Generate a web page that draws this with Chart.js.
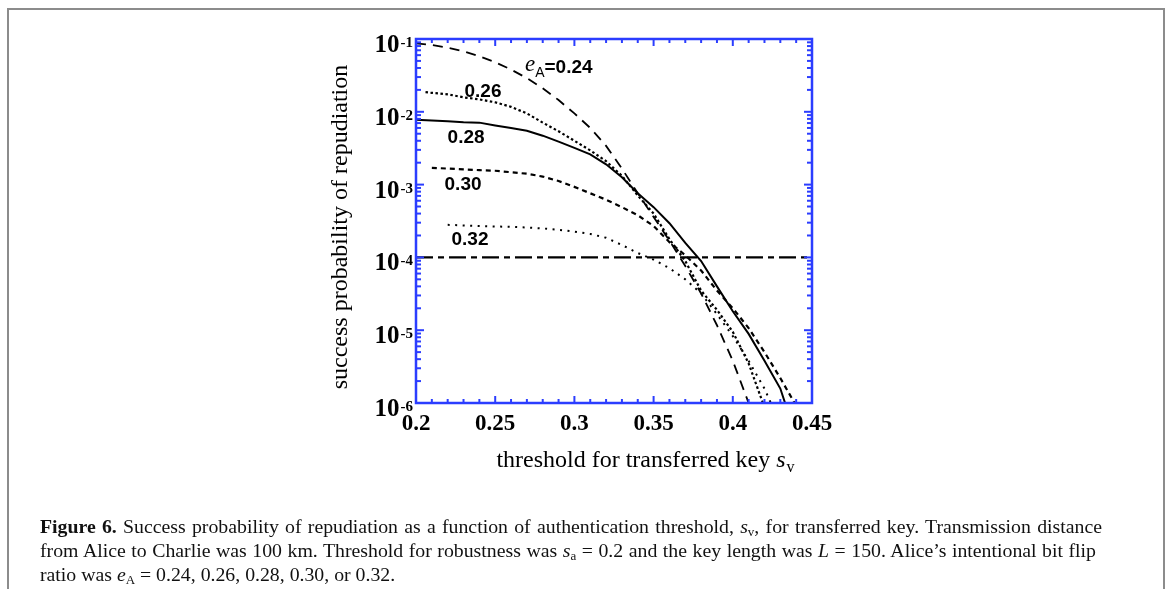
<!DOCTYPE html>
<html>
<head>
<meta charset="utf-8">
<script src="https://cdn.jsdelivr.net/npm/chart.js"></script>
<style>
  html, body { margin:0; padding:0; background:#fff; }
  body { width:1170px; height:589px; position:relative; overflow:hidden; }
  #chart { position:absolute; left:0; top:0; }
  .box { position:absolute; left:7px; top:8px; width:1158px; height:640px; border:2px solid #8c8c8c; box-sizing:border-box; }
  .caption { position:absolute; left:40px; top:514px; width:1062px; font-family:'Liberation Serif', serif; font-size:19.8px; line-height:24px; color:#111; }
  .caption .j { text-align:justify; text-align-last:justify; }
  .caption sub { font-size:13px; vertical-align:-3px; line-height:0; }
</style>
</head>
<body>
<div class="box"></div>
<canvas id="chart" width="1170" height="589"></canvas>
<div class="caption">
  <div class="j"><b>Figure 6.</b> Success probability of repudiation as a function of authentication threshold, <i>s</i><sub>v</sub>, for transferred key. Transmission distance</div>
  <div class="j" style="width:1056px">from Alice to Charlie was 100 km. Threshold for robustness was <i>s</i><sub>a</sub> = 0.2 and the key length was <i>L</i> = 150. Alice’s intentional bit flip</div>
  <div>ratio was <i>e</i><sub>A</sub> = 0.24, 0.26, 0.28, 0.30, or 0.32.</div>
</div>
<script>
// threshold s_v and success probability of repudiation for each e_A
var sv024 = [0.20,0.21,0.22,0.23,0.24,0.25,0.26,0.27,0.28,0.29,0.30,0.31,0.32,0.33,0.34,0.35,0.36,0.37,0.38,0.39,0.40,0.41];
var p024  = [8.7e-2,8.3e-2,7.6e-2,6.8e-2,5.8e-2,4.8e-2,3.8e-2,2.9e-2,2.1e-2,1.45e-2,9.5e-3,6.0e-3,3.4e-3,1.66e-3,7.6e-4,3.6e-4,1.7e-4,7.6e-5,3.2e-5,1.17e-5,3.8e-6,1.0e-6];

var sv026 = [0.206,0.21,0.22,0.23,0.24,0.25,0.26,0.27,0.28,0.29,0.30,0.31,0.32,0.33,0.34,0.35,0.36,0.37,0.38,0.39,0.40,0.41,0.419];
var p026  = [1.86e-2,1.82e-2,1.74e-2,1.58e-2,1.48e-2,1.35e-2,1.17e-2,9.5e-3,7.1e-3,5.4e-3,4.0e-3,2.95e-3,2.1e-3,1.32e-3,7.1e-4,4.0e-4,1.78e-4,8.9e-5,3.5e-5,1.9e-5,9.5e-6,3.5e-6,1.0e-6];

var sv028 = [0.20,0.21,0.22,0.23,0.24,0.25,0.26,0.27,0.28,0.29,0.30,0.31,0.32,0.33,0.34,0.35,0.36,0.37,0.38,0.39,0.40,0.41,0.42,0.43,0.433];
var p028  = [7.8e-3,7.6e-3,7.4e-3,7.2e-3,7.1e-3,6.5e-3,6.0e-3,5.5e-3,4.7e-3,3.9e-3,3.2e-3,2.6e-3,1.9e-3,1.26e-3,7.6e-4,4.9e-4,2.95e-4,1.58e-4,8.9e-5,4.0e-5,1.82e-5,8.9e-6,3.8e-6,1.58e-6,1.0e-6];

var sv030 = [0.21,0.22,0.23,0.24,0.25,0.26,0.27,0.28,0.29,0.30,0.31,0.32,0.33,0.34,0.35,0.36,0.37,0.38,0.39,0.40,0.41,0.42,0.43,0.439];
var p030  = [1.70e-3,1.66e-3,1.62e-3,1.58e-3,1.55e-3,1.48e-3,1.41e-3,1.29e-3,1.12e-3,9.3e-4,7.6e-4,6.2e-4,4.9e-4,3.8e-4,2.7e-4,1.62e-4,1.07e-4,6.6e-5,3.5e-5,2.0e-5,1.07e-5,5.0e-6,2.2e-6,1.0e-6];

var sv032 = [0.22,0.23,0.24,0.25,0.26,0.27,0.28,0.29,0.30,0.31,0.32,0.33,0.34,0.35,0.36,0.37,0.38,0.39,0.40,0.41,0.42,0.424];
var p032  = [2.8e-4,2.75e-4,2.7e-4,2.66e-4,2.63e-4,2.57e-4,2.5e-4,2.4e-4,2.26e-4,2.1e-4,1.86e-4,1.48e-4,1.15e-4,9.3e-5,7.1e-5,5.0e-5,3.2e-5,1.66e-5,8.3e-6,3.8e-6,1.58e-6,1.0e-6];

// horizontal reference level
var svRef = [0.20, 0.45];
var pRef  = [1e-4, 1e-4];

// axis ticks
var xMajorTicks = [0.20, 0.25, 0.30, 0.35, 0.40, 0.45];
var xTickLabels = ['0.2', '0.25', '0.3', '0.35', '0.4', '0.45'];
var yDecades = [-6, -5, -4, -3, -2, -1];

// curve labels: [text, s_v, probability]
var curveLabels = [
  ['0.26', 0.2423, 1.87e-2],
  ['0.28', 0.2316, 4.4e-3],
  ['0.30', 0.2297, 9.9e-4],
  ['0.32', 0.2341, 1.73e-4]
];

var AXIS = '#2b3dff';

function pts(xs, ys) {
  return xs.map(function(x, i){ return {x: x, y: ys[i]}; });
}

function line(ctx, x1, y1, x2, y2) {
  ctx.beginPath(); ctx.moveTo(x1, y1); ctx.lineTo(x2, y2); ctx.stroke();
}

var decorations = {
  id: 'decorations',
  afterDraw: function(chart) {
    var ctx = chart.ctx, a = chart.chartArea;
    var xs = chart.scales.x, ys = chart.scales.y;
    ctx.save();

    // frame
    ctx.strokeStyle = AXIS;
    ctx.lineWidth = 2.5;
    ctx.strokeRect(a.left, a.top, a.right - a.left, a.bottom - a.top);

    // x ticks, inward on bottom and top
    ctx.lineWidth = 2;
    for (var i = 0; i < xMajorTicks.length; i++) {
      var px = xs.getPixelForValue(xMajorTicks[i]);
      line(ctx, px, a.bottom, px, a.bottom - 7);
      line(ctx, px, a.top, px, a.top + 7);
      if (i < xMajorTicks.length - 1) {
        for (var k = 1; k < 5; k++) {
          var pm = xs.getPixelForValue(xMajorTicks[i] + k * 0.01);
          line(ctx, pm, a.bottom, pm, a.bottom - 4);
          line(ctx, pm, a.top, pm, a.top + 4);
        }
      }
    }

    // y ticks, log decades with minor 2..9
    for (var d = 0; d < yDecades.length; d++) {
      var e = yDecades[d];
      var py = ys.getPixelForValue(Math.pow(10, e));
      line(ctx, a.left, py, a.left + 8, py);
      line(ctx, a.right, py, a.right - 8, py);
      if (d < yDecades.length - 1) {
        for (var m = 2; m < 10; m++) {
          var pym = ys.getPixelForValue(m * Math.pow(10, e));
          line(ctx, a.left, pym, a.left + 5, pym);
          line(ctx, a.right, pym, a.right - 5, pym);
        }
      }
    }

    ctx.fillStyle = '#000';

    // x tick labels
    ctx.font = 'bold 23px "Liberation Serif"';
    ctx.textAlign = 'center';
    ctx.textBaseline = 'alphabetic';
    for (var j = 0; j < xMajorTicks.length; j++) {
      ctx.fillText(xTickLabels[j], xs.getPixelForValue(xMajorTicks[j]), a.bottom + 27);
    }

    // y tick labels 10^e
    for (var n = 0; n < yDecades.length; n++) {
      var yy = ys.getPixelForValue(Math.pow(10, yDecades[n]));
      ctx.textAlign = 'right';
      ctx.font = 'bold 15px "Liberation Serif"';
      ctx.fillText('-' + Math.abs(yDecades[n]), a.left - 3, yy + 8);
      var supW = ctx.measureText('-' + Math.abs(yDecades[n])).width;
      ctx.font = 'bold 25px "Liberation Serif"';
      ctx.fillText('10', a.left - 4 - supW, yy + 13);
    }

    // x axis title with italic s and subscript v
    var t1 = 'threshold for transferred key ';
    ctx.font = '24px "Liberation Serif"';
    var w1 = ctx.measureText(t1).width;
    ctx.font = 'italic 24px "Liberation Serif"';
    var w2 = ctx.measureText('s').width;
    ctx.font = '16px "Liberation Serif"';
    var w3 = ctx.measureText('v').width;
    var x0 = 645 - (w1 + w2 + w3) / 2;
    var base = a.bottom + 64;
    ctx.textAlign = 'left';
    ctx.font = '24px "Liberation Serif"';
    ctx.fillText(t1, x0, base);
    ctx.font = 'italic 24px "Liberation Serif"';
    ctx.fillText('s', x0 + w1, base);
    ctx.font = '16px "Liberation Serif"';
    ctx.fillText('v', x0 + w1 + w2 + 1, base + 5);

    // y axis title
    ctx.save();
    ctx.translate(a.left - 75, (a.top + a.bottom) / 2 + 6);
    ctx.rotate(-Math.PI / 2);
    ctx.textAlign = 'center';
    ctx.textBaseline = 'middle';
    ctx.font = '24px "Liberation Serif"';
    ctx.fillText('success probability of repudiation', 0, 0);
    ctx.restore();

    // curve labels
    ctx.textAlign = 'center';
    ctx.textBaseline = 'middle';
    ctx.font = 'bold 19px "Liberation Sans"';
    curveLabels.forEach(function(l) {
      ctx.fillText(l[0], xs.getPixelForValue(l[1]), ys.getPixelForValue(l[2]));
    });

    // e_A = 0.24 label
    var lx = xs.getPixelForValue(0.2688), ly = ys.getPixelForValue(4.1e-2);
    ctx.textAlign = 'left';
    ctx.textBaseline = 'alphabetic';
    ctx.font = 'italic 23px "Liberation Serif"';
    ctx.fillText('e', lx, ly + 4);
    var we = ctx.measureText('e').width;
    ctx.font = '14px "Liberation Sans"';
    ctx.fillText('A', lx + we, ly + 10);
    var wa = ctx.measureText('A').width;
    ctx.font = 'bold 19px "Liberation Sans"';
    ctx.fillText('=0.24', lx + we + wa, ly + 6);

    ctx.restore();
  }
};

function series(xs, ys, dash, width) {
  return {
    data: pts(xs, ys),
    borderColor: '#000',
    borderWidth: width,
    borderDash: dash,
    pointRadius: 0,
    tension: 0,
    fill: false
  };
}

new Chart(document.getElementById('chart').getContext('2d'), {
  type: 'line',
  data: {
    datasets: [
      series(sv024, p024, [10, 7], 1.8),
      series(sv026, p026, [2.5, 2.5], 2.2),
      series(sv028, p028, [], 2),
      series(sv030, p030, [5, 4], 2.2),
      series(sv032, p032, [2, 5.5], 2),
      series(svRef, pRef, [17, 5, 6, 5], 2.4)
    ]
  },
  options: {
    responsive: false,
    animation: false,
    devicePixelRatio: 1,
    layout: { padding: { left: 416, right: 358, top: 39, bottom: 186 } },
    plugins: { legend: { display: false }, tooltip: { enabled: false } },
    scales: {
      x: { type: 'linear', min: 0.2, max: 0.45, display: false },
      y: { type: 'logarithmic', min: 1e-6, max: 1e-1, display: false }
    }
  },
  plugins: [decorations]
});
</script>
</body>
</html>
